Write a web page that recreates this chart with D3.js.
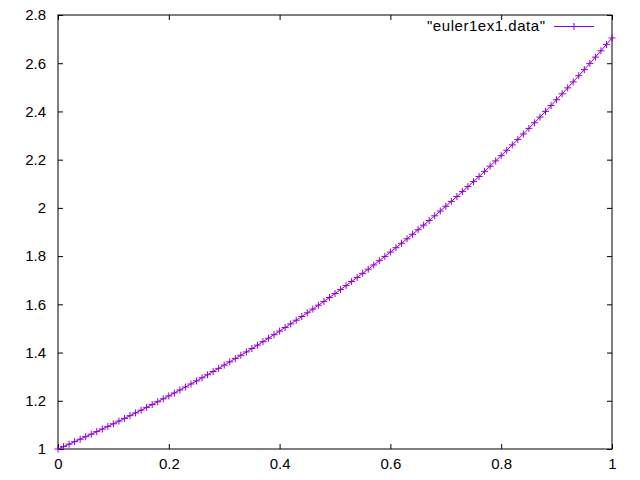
<!DOCTYPE html>
<html>
<head>
<meta charset="utf-8">
<script src="https://cdn.jsdelivr.net/npm/d3@7"></script>
<style>
  body { margin: 0; background: #fff; }
  svg text { font-family: "Liberation Sans", Arial, sans-serif; font-size: 15px; fill: #000; }
</style>
</head>
<body>
<svg id="plot" width="640" height="480"></svg>
<script>
// euler1ex1.data : t, y
var tVals = [0, 0.01, 0.02, 0.03, 0.04, 0.05, 0.06, 0.07, 0.08, 0.09,
  0.1, 0.11, 0.12, 0.13, 0.14, 0.15, 0.16, 0.17, 0.18, 0.19,
  0.2, 0.21, 0.22, 0.23, 0.24, 0.25, 0.26, 0.27, 0.28, 0.29,
  0.3, 0.31, 0.32, 0.33, 0.34, 0.35, 0.36, 0.37, 0.38, 0.39,
  0.4, 0.41, 0.42, 0.43, 0.44, 0.45, 0.46, 0.47, 0.48, 0.49,
  0.5, 0.51, 0.52, 0.53, 0.54, 0.55, 0.56, 0.57, 0.58, 0.59,
  0.6, 0.61, 0.62, 0.63, 0.64, 0.65, 0.66, 0.67, 0.68, 0.69,
  0.7, 0.71, 0.72, 0.73, 0.74, 0.75, 0.76, 0.77, 0.78, 0.79,
  0.8, 0.81, 0.82, 0.83, 0.84, 0.85, 0.86, 0.87, 0.88, 0.89,
  0.9, 0.91, 0.92, 0.93, 0.94, 0.95, 0.96, 0.97, 0.98, 0.99, 1]
var yVals = [1, 1.01, 1.0201, 1.0303, 1.0406, 1.051, 1.0615, 1.0721, 1.0829, 1.0937,
  1.1046, 1.1157, 1.1268, 1.1381, 1.1495, 1.161, 1.1726, 1.1843, 1.1961, 1.2081,
  1.2202, 1.2324, 1.2447, 1.2572, 1.2697, 1.2824, 1.2953, 1.3082, 1.3213, 1.3345,
  1.3478, 1.3613, 1.3749, 1.3887, 1.4026, 1.4166, 1.4308, 1.4451, 1.4595, 1.4741,
  1.4889, 1.5038, 1.5188, 1.534, 1.5493, 1.5648, 1.5805, 1.5963, 1.6122, 1.6283,
  1.6446, 1.6611, 1.6777, 1.6945, 1.7114, 1.7285, 1.7458, 1.7633, 1.7809, 1.7987,
  1.8167, 1.8349, 1.8532, 1.8717, 1.8905, 1.9094, 1.9285, 1.9477, 1.9672, 1.9869,
  2.0068, 2.0268, 2.0471, 2.0676, 2.0882, 2.1091, 2.1302, 2.1515, 2.173, 2.1948,
  2.2167, 2.2389, 2.2613, 2.2839, 2.3067, 2.3298, 2.3531, 2.3766, 2.4004, 2.4244,
  2.4486, 2.4731, 2.4978, 2.5228, 2.5481, 2.5735, 2.5993, 2.6253, 2.6515, 2.678, 2.7048]

var xTicks = [0, 0.2, 0.4, 0.6, 0.8, 1]
var xTickLabels = ["0", "0.2", "0.4", "0.6", "0.8", "1"]
var yTicks = [1, 1.2, 1.4, 1.6, 1.8, 2, 2.2, 2.4, 2.6, 2.8]
var yTickLabels = ["1", "1.2", "1.4", "1.6", "1.8", "2", "2.2", "2.4", "2.6", "2.8"]
var seriesName = '"euler1ex1.data"'

var color = "#9400d3"
var padL = 58, padR = 612, padT = 15, padB = 449

var x = d3.scaleLinear().domain([0, 1]).range([padL, padR])
var y = d3.scaleLinear().domain([1, 2.8]).range([padB, padT])

var data = tVals.map((t, i) => ({ t: t, y: yVals[i] }))

var svg = d3.select("svg#plot")

function styleAxis(g) {
  g.select(".domain").remove()
  g.selectAll(".tick line").attr("stroke", "#000")
  g.selectAll(".tick text").style("font-size", "15px")
}

// bottom / left with labels, ticks pointing inward
svg.append("g")
    .attr("transform", "translate(0," + padB + ")")
    .call(d3.axisBottom(x).tickValues(xTicks).tickSize(-5).tickPadding(9)
      .tickFormat((d, i) => xTickLabels[i]))
    .call(styleAxis)

svg.append("g")
    .attr("transform", "translate(" + padL + ",0)")
    .call(d3.axisLeft(y).tickValues(yTicks).tickSize(-5).tickPadding(12)
      .tickFormat((d, i) => yTickLabels[i]))
    .call(styleAxis)

// mirror ticks
svg.append("g")
    .attr("transform", "translate(0," + padT + ")")
    .call(d3.axisTop(x).tickValues(xTicks).tickSize(-5).tickFormat(""))
    .call(styleAxis)

svg.append("g")
    .attr("transform", "translate(" + padR + ",0)")
    .call(d3.axisRight(y).tickValues(yTicks).tickSize(-5).tickFormat(""))
    .call(styleAxis)

svg.append("rect")
    .attr("x", padL).attr("y", padT)
    .attr("width", padR - padL).attr("height", padB - padT)
    .attr("fill", "none").attr("stroke", "#000").attr("stroke-width", 1)

// series
var line = d3.line().x(d => x(d.t)).y(d => y(d.y))

svg.append("path")
    .datum(data)
    .attr("fill", "none")
    .attr("stroke", color)
    .attr("stroke-width", 1)
    .attr("d", line)

function plusPath(cx, cy, r) {
  return "M" + (cx - r) + "," + cy + "H" + (cx + r) + "M" + cx + "," + (cy - r) + "V" + (cy + r)
}

svg.append("g").selectAll("path")
    .data(data)
    .enter().append("path")
    .attr("d", d => plusPath(x(d.t), y(d.y), 3.5))
    .attr("stroke", color)
    .attr("stroke-width", 1)
    .attr("fill", "none")

// key
var key = svg.append("g")
key.append("text")
    .attr("x", 545).attr("y", 31)
    .attr("text-anchor", "end")
    .attr("textLength", 118)
    .attr("lengthAdjust", "spacing")
    .text(seriesName)
key.append("line")
    .attr("x1", 554).attr("x2", 594).attr("y1", 26.5).attr("y2", 26.5)
    .attr("stroke", color)
key.append("path")
    .attr("d", plusPath(574, 26.5, 3.5))
    .attr("stroke", color)
</script>
</body>
</html>
